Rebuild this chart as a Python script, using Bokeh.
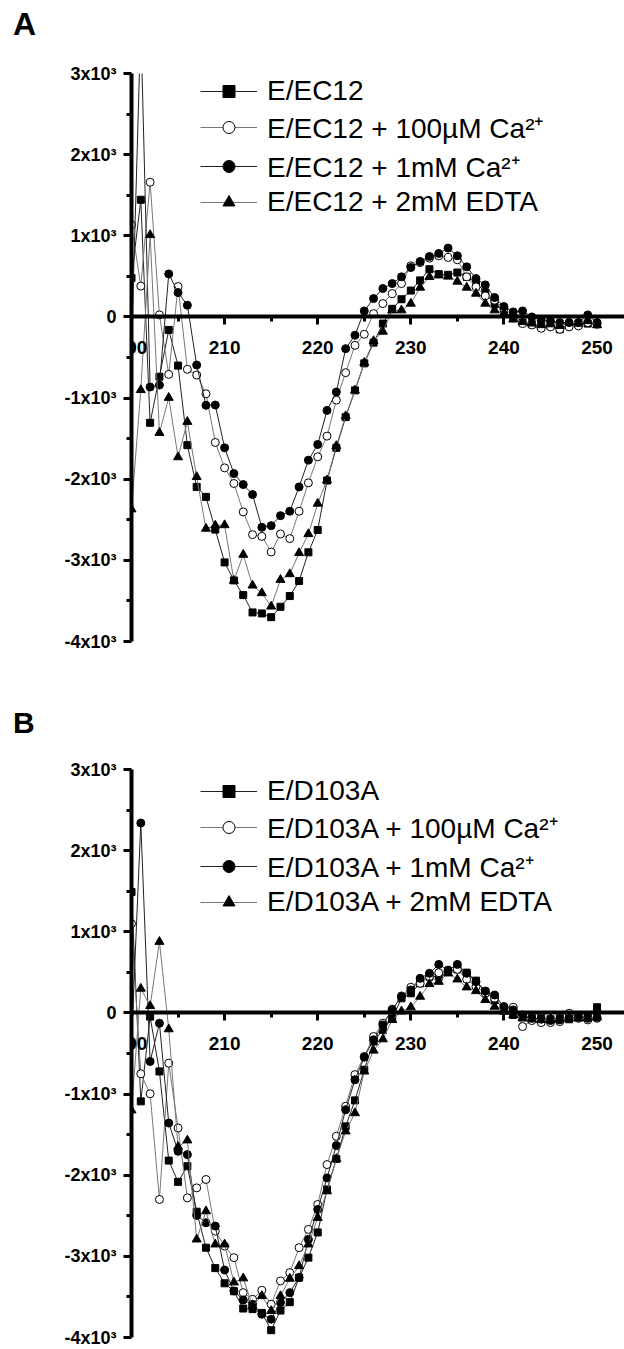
from bokeh.plotting import figure
from bokeh.models import Legend, LegendItem, FixedTicker, Range1d, Div
from bokeh.layouts import column
from bokeh.embed import file_html
from bokeh.resources import INLINE

# ---------------- data ----------------
wavelength = list(range(200, 251))

x_ticks = [200, 210, 220, 230, 240, 250]
x_tick_labels = ["200", "210", "220", "230", "240", "250"]
y_ticks = [-4000, -3000, -2000, -1000, 0, 1000, 2000, 3000]
y_tick_labels = ["-4x10³", "-3x10³", "-2x10³", "-1x10³", "0", "1x10³", "2x10³", "3x10³"]

# Panel A : E/EC12
a_names = ["E/EC12", "E/EC12 + 100µM Ca²⁺", "E/EC12 + 1mM Ca²⁺", "E/EC12 + 2mM EDTA"]
a_plain = [480, 1444, -1305, -737, -160, -600, -1580, -2095, -2218, -2621,
           -3025, -3247, -3428, -3642, -3654, -3700, -3572, -3440, -3255, -2901,
           -2626, -2016, -1613, -1235, -905, -572, -317, -82, 100, 218,
           325, 450, 588, 527, 519, 547, 494, 424, 300, 156,
           74, -16, -70, -90, -111, -111, -152, -90, -90, -82, -90]
a_ca100 = [1136, 380, 1660, 25, -708, 375, -646, -716, -947, -1547,
           -1860, -2053, -2403, -2683, -2704, -2897, -2675, -2732, -2395, -2045,
           -1724, -1469, -1025, -687, -350, -214, 41, 165, 288, 411,
           630, 670, 724, 753, 733, 704, 494, 370, 259, 206,
           103, 12, -82, -99, -140, -123, -152, -123, -111, -70, -90]
a_ca1m = [-378, 3600, -864, -840, 530, 300, 144, -593, -1090, -1086,
          -1613, -1930, -2066, -2189, -2593, -2572, -2449, -2395, -2095, -1765,
          -1572, -1152, -926, -391, -226, 74, 226, 350, 411, 494,
          609, 683, 745, 782, 848, 753, 617, 473, 395, 239,
          128, 62, 74, 0, -41, -50, -70, -70, -70, 25, -70]
a_edta = [-2370, -900, 1010, -1428, -996, -1728, -1292, -1971, -2609, -2570,
          -2565, -3250, -2930, -3309, -3403, -3568, -3239, -3169, -2909, -2675,
          -2300, -2012, -1590, -1222, -905, -564, -296, -181, 82, 82,
          165, 362, 494, 514, 498, 436, 362, 288, 165, 82,
          40, -30, -60, -80, -100, -90, -110, -60, -80, -50, -100]

# Panel B : E/D103A
b_names = ["E/D103A", "E/D103A + 100µM Ca²⁺", "E/D103A + 1mM Ca²⁺", "E/D103A + 2mM EDTA"]
b_plain = [1490, -1090, -45, -721, -1820, -2082, -1889, -2450, -2893, -3145,
           -3332, -3430, -3643, -3650, -3697, -3910, -3668, -3565, -3262, -3016,
           -2705, -2176, -1799, -1398, -1078, -700, -352, -209, -66, 180,
           242, 365, 447, 447, 508, 537, 496, 398, 262, 160,
           57, -25, -53, -66, -66, -78, -66, -78, -53, -53, 70]
b_ca100 = [1100, -750, -996, -2299, -619, -1418, -2279, -2156, -2053, -2689,
           -2873, -3016, -3447, -3529, -3418, -3590, -3303, -3201, -2893, -2668,
           -2361, -1869, -1520, -1150, -760, -537, -291, -127, 37, 209,
           316, 365, 447, 496, 508, 537, 414, 324, 242, 180,
           70, 70, -168, -94, -119, -119, -107, -4, -66, -86, -66]
b_ca1m = [-370, 2340, -598, -127, -1357, -1705, -1746, -2496, -2586, -2627,
          -3168, -3426, -3537, -3590, -3713, -3775, -3570, -3447, -3262, -2791,
          -2422, -2033, -1635, -1193, -824, -545, -332, -148, 45, 201,
          283, 426, 488, 598, 529, 598, 488, 385, 270, 221,
          78, 37, -25, -66, -78, -94, -86, -66, -53, -66, -53]
b_edta = [-1200, 300, 86, 877, -200, -1650, -1570, -2791, -2443, -2852,
          -2852, -3320, -3270, -3611, -3488, -3672, -3488, -3275, -3119, -2852,
          -2525, -2197, -1799, -1459, -1234, -721, -463, -324, -86, 20,
          70, 201, 357, 385, 488, 414, 316, 270, 160, 78,
          16, -25, -66, -78, -86, -86, -78, -66, -66, -66, -53]

FONT = "Liberation Sans"

STYLES = [
    dict(marker="square", size=7, fill_color="black", line_color="black", lc="#222222"),
    dict(marker="circle", size=8, fill_color="white", line_color="black", lc="#777777"),
    dict(marker="circle", size=8, fill_color="black", line_color="black", lc="#222222"),
    dict(marker="triangle", size=9, fill_color="black", line_color="black", lc="#777777"),
]


def letter_div(letter, height, pad_top, size):
    return Div(text=letter, width=120, height=height, margin=(0, 0, 0, 0),
               styles={"font-family": FONT, "font-weight": "bold", "font-size": size,
                       "padding-left": "13px", "padding-top": pad_top, "line-height": "1.15",
                       "color": "black"})


def make_panel(names, series, height, top, bottom, legend_y):
    p = figure(width=624, height=height, output_backend="svg", toolbar_location=None,
               x_range=Range1d(200, 252.95), y_range=Range1d(-4000, 3000),
               min_border_left=131, min_border_right=0,
               min_border_top=top, min_border_bottom=bottom)
    p.outline_line_color = None
    p.grid.visible = False
    p.background_fill_color = "white"
    p.border_fill_color = None

    # x axis crossing at y = 0
    xa = p.xaxis[0]
    xa.fixed_location = 0
    xa.ticker = FixedTicker(ticks=x_ticks,
                            minor_ticks=[(a + b) / 2 for a, b in zip(x_ticks[:-1], x_ticks[1:])])
    xa.major_label_overrides = dict(zip(x_ticks, x_tick_labels))
    ya = p.yaxis[0]
    ya.ticker = FixedTicker(ticks=y_ticks,
                            minor_ticks=[(a + b) / 2 for a, b in zip(y_ticks[:-1], y_ticks[1:])])
    ya.major_label_overrides = dict(zip(y_ticks, y_tick_labels))
    for ax, standoff, fs in ((xa, 16, "19px"), (ya, 7, "18px")):
        ax.axis_line_width = 4
        ax.axis_line_color = "black"
        ax.major_tick_line_width = 3
        ax.minor_tick_line_width = 3
        ax.major_tick_in = 0
        ax.major_tick_out = 8
        ax.minor_tick_in = 0
        ax.minor_tick_out = 5
        ax.major_label_standoff = standoff
        ax.major_label_text_font = FONT
        ax.major_label_text_font_style = "bold"
        ax.major_label_text_font_size = fs
        ax.major_label_text_color = "black"

    items = []
    for name, vals, st in zip(names, series, STYLES):
        lr = p.line(wavelength, vals, line_color=st["lc"], line_width=1)
        mr = p.scatter(wavelength, vals, marker=st["marker"], size=st["size"],
                       fill_color=st["fill_color"], line_color=st["line_color"], line_width=1)
        items.append(LegendItem(label=name, renderers=[lr, mr]))

    legend = Legend(items=items, location=(69, legend_y), padding=0, margin=0,
                    spacing=1, glyph_width=57, glyph_height=30, label_height=30,
                    label_standoff=10, label_text_font=FONT, label_text_font_size="28px",
                    label_text_color="black",
                    border_line_color=None, background_fill_alpha=0)
    p.add_layout(legend)
    return p


divA = letter_div("A", 40, "6px", "32px")
pA = make_panel(a_names, [a_plain, a_ca100, a_ca1m, a_edta],
                height=650, top=33, bottom=49, legend_y=423)
divB = letter_div("B", 50, "16px", "30px")
pB = make_panel(b_names, [b_plain, b_ca100, b_ca1m, b_edta],
                height=608, top=29, bottom=11, legend_y=419)

layout = column(divA, pA, divB, pB, spacing=0)
open("out.html", "w").write(file_html(layout, INLINE))
